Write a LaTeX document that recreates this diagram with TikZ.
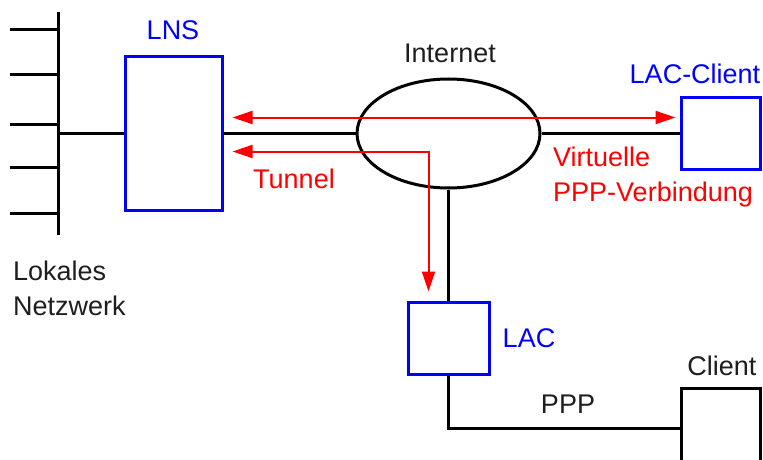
\documentclass[tikz,border=0pt]{standalone}
\usepackage{fontspec}
\setmainfont{Liberation Sans}
\usetikzlibrary{shapes.geometric,arrows.meta}
\definecolor{netred}{RGB}{255,0,0}
\definecolor{netblue}{RGB}{0,0,255}
\definecolor{txtgray}{RGB}{30,30,30}
\begin{document}
\begin{tikzpicture}[x=1pt,y=-1pt,
  lbl/.style={font=\fontsize{27}{35}\selectfont, inner sep=0pt, text=txtgray},
  bluebox/.style={draw=netblue, line width=3pt, inner sep=0pt},
  blackbox/.style={draw=black, line width=3pt, inner sep=0pt},
  blackline/.style={line width=3pt},
  tunnel/.style={draw=netred, line width=2pt, {Triangle[length=20pt,width=13pt]}-{Triangle[length=20pt,width=13pt]}},
]
\useasboundingbox (0,0) rectangle (763,460);

% nodes
\node[bluebox, minimum width=97pt, minimum height=153pt] (lns) at (173.5,133.5) {};
\node[bluebox, minimum width=79pt, minimum height=72pt] (lacc) at (720.5,133.5) {};
\node[bluebox, minimum width=81pt, minimum height=72pt] (lac) at (448.5,338) {};
\node[blackbox, minimum width=79pt, minimum height=80pt] (client) at (720.5,428) {};
\node[ellipse, draw, line width=3pt, inner sep=0pt, minimum width=183pt, minimum height=109pt] (inet) at (448.5,133.5) {};

% local network bus
\coordinate (bustop) at (58,12);
\coordinate (busbot) at (58,235);
\draw[blackline] (bustop) -- (busbot);
\foreach \yy in {30,75,124,167,213} {
  \coordinate (stub\yy) at (10,\yy);
  \draw[blackline] (stub\yy) -- (stub\yy -| bustop);
}

% black connectors
\draw[blackline] (lns.west -| bustop) -- (lns.west);
\draw[blackline] (lns.east) -- (inet.west);
\draw[blackline] (inet.east) -- (lacc.west);
\draw[blackline] (inet.south) -- (lac.north);
\draw[blackline] (lac.south) |- (client.west);

% tunnel arrows
\draw[tunnel] ([xshift=9pt,yshift=16pt]lns.east) -- ([xshift=-4pt,yshift=16pt]lacc.west);
\draw[tunnel] ([xshift=9pt,yshift=-18pt]lns.east) -| ([xshift=-20pt,yshift=9pt]lac.north);

% labels
\node[lbl, text=netblue, anchor=base] (lnslbl) at (173,40) {LNS};
\node[lbl, anchor=base] (inetlbl) at (450,63) {Internet};
\node[lbl, text=netblue, anchor=base] (lacclbl) at (695,83) {LAC-Client};
\node[lbl, text=netblue, anchor=base] (laclbl) at (529,347) {LAC};
\node[lbl, anchor=base] (clientlbl) at (722,375) {Client};
\node[lbl, anchor=base] (ppplbl) at (568,413) {PPP};
\node[lbl, text=netred, anchor=base] (tunnellbl) at (294,188) {Tunnel};
\node[lbl, anchor=base west, align=left] (lanlbl) at (13,315) {Lokales\\Netzwerk};
\node[lbl, text=netred, anchor=base west, align=left] (vpnlbl) at (553,201) {Virtuelle\\PPP-Verbindung};
\end{tikzpicture}
\end{document}
